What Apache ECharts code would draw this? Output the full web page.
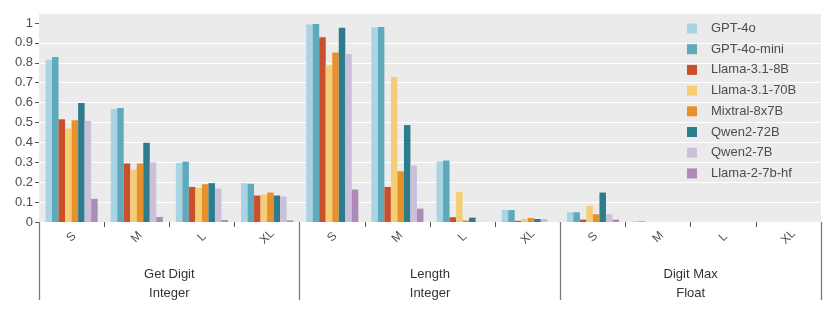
<!DOCTYPE html>
<html>
<head>
<meta charset="utf-8">
<script src="https://cdn.jsdelivr.net/npm/echarts@6/dist/echarts.min.js"></script>
<style>html,body{margin:0;padding:0;background:#fff}#c{width:830px;height:310px}</style>
</head>
<body>
<div id="c"></div>
<script>
const sizes = ['S', 'M', 'L', 'XL'];
const groups = ['Get Digit\nInteger', 'Length\nInteger', 'Digit Max\nFloat'];
const models = ['GPT-4o', 'GPT-4o-mini', 'Llama-3.1-8B', 'Llama-3.1-70B', 'Mixtral-8x7B', 'Qwen2-72B', 'Qwen2-7B', 'Llama-2-7b-hf'];
const colors = ['#a9d4e4', '#5ea9bc', '#c9502a', '#f4cd77', '#e8912b', '#2d7c8c', '#cbc0d8', '#ad8ab8'];
const yTicks = [0, 0.1, 0.2, 0.3, 0.4, 0.5, 0.6, 0.7, 0.8, 0.9, 1];

// values per model, 12 categories: Get Digit S,M,L,XL | Length S,M,L,XL | Digit Max S,M,L,XL
const gpt4o      = [0.815, 0.568, 0.297, 0.195, 0.992, 0.978, 0.303, 0.060, 0.049, 0.003, 0, 0];
const gpt4oMini  = [0.829, 0.573, 0.303, 0.192, 0.995, 0.980, 0.309, 0.060, 0.049, 0.003, 0, 0];
const llama8b    = [0.516, 0.294, 0.176, 0.133, 0.928, 0.176, 0.024, 0.006, 0.012, 0, 0, 0];
const llama70b   = [0.469, 0.264, 0.171, 0.138, 0.787, 0.728, 0.151, 0.015, 0.082, 0, 0, 0];
const mixtral    = [0.511, 0.294, 0.190, 0.148, 0.852, 0.255, 0.008, 0.020, 0.039, 0, 0, 0];
const qwen72b    = [0.598, 0.398, 0.195, 0.133, 0.976, 0.487, 0.022, 0.015, 0.148, 0, 0, 0];
const qwen7b     = [0.508, 0.299, 0.168, 0.128, 0.844, 0.284, 0.002, 0.015, 0.039, 0, 0, 0];
const llama2     = [0.116, 0.025, 0.010, 0.008, 0.163, 0.067, 0, 0, 0.012, 0, 0, 0];
const seriesValues = [gpt4o, gpt4oMini, llama8b, llama70b, mixtral, qwen72b, qwen7b, llama2];

const categories = [];
groups.forEach(g => sizes.forEach(s => categories.push(s)));

const chart = echarts.init(document.getElementById('c'), null, {renderer: 'canvas'});
const font = '"Liberation Sans", Arial, sans-serif';
chart.setOption({
  animation: false,
  textStyle: {fontFamily: font},
  grid: {left: 39, right: 9, top: 14, bottom: 88, show: true, backgroundColor: '#ebebeb', borderWidth: 0},
  legend: {
    orient: 'vertical', left: 682, top: 17,
    itemWidth: 10, itemHeight: 10, itemGap: 7.7, icon: 'rect',
    textStyle: {fontSize: 13, lineHeight: 12, color: '#4d4d4d', padding: [0, 0, 0, 9], fontFamily: font},
    data: models
  },
  xAxis: [{
    type: 'category', data: categories, position: 'bottom',
    axisLine: {show: false},
    axisTick: {show: true, length: 5, interval: 0, lineStyle: {color: '#555'}},
    axisLabel: {rotate: 45, margin: 15, fontSize: 12, color: '#4d4d4d', interval: 0,
      align: 'center', verticalAlign: 'middle', fontFamily: font},
    splitLine: {show: false}
  }, {
    type: 'category', data: groups, position: 'bottom',
    axisLine: {show: false},
    axisTick: {show: true, length: 78, interval: 0, lineStyle: {color: '#7a7a7a', width: 1.3}},
    axisLabel: {margin: 43, fontSize: 13, lineHeight: 19, color: '#333', interval: 0, fontFamily: font},
    splitLine: {show: false}
  }],
  yAxis: {
    type: 'value', min: 0, max: 1.045, interval: 0.1,
    axisLine: {show: false},
    axisTick: {show: true, length: 4, lineStyle: {color: '#555'}, customValues: yTicks},
    axisLabel: {fontSize: 13, color: '#4d4d4d', margin: 6, customValues: yTicks,
      formatter: v => String(Math.round(v * 10) / 10)},
    splitLine: {show: true, showMaxLine: false, lineStyle: {color: '#ffffff', width: 1.2}}
  },
  series: models.map((m, i) => ({
    name: m, type: 'bar', xAxisIndex: 0, data: seriesValues[i],
    barGap: '0%', barCategoryGap: '20%',
    itemStyle: {color: colors[i]}
  }))
});
</script>
</body>
</html>
